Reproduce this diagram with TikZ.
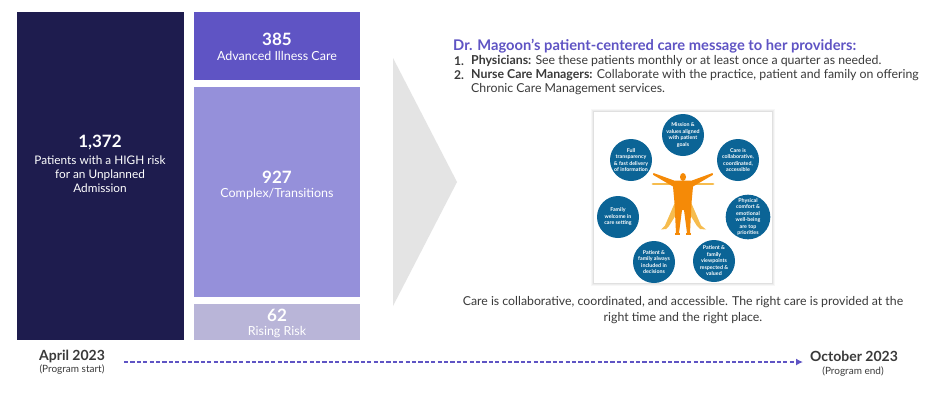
\documentclass[tikz,border=0pt]{standalone}
\usepackage{fontspec}
\setmainfont{Lato}
\usetikzlibrary{arrows.meta}
\definecolor{navy}{HTML}{1E1C4E}
\definecolor{violet}{HTML}{5F54C4}
\definecolor{midv}{HTML}{9590DA}
\definecolor{palev}{HTML}{B9B5D8}
\definecolor{chev}{HTML}{E4E4E4}
\definecolor{ink}{HTML}{3A3A3A}
\definecolor{teal}{HTML}{0B6496}
\definecolor{orangeA}{HTML}{F58A07}
\definecolor{orangeB}{HTML}{F6BC4E}
\newcommand{\fs}[2]{\fontsize{#1}{#2}\selectfont}
\tikzset{
  block/.style={fill=#1,draw=none,inner sep=0pt},
  num/.style={text=white,font=\fs{17}{19}\bfseries,inner sep=0pt},
  lab/.style={text=white,font=\fs{12.5}{15.5}\selectfont,align=center,inner sep=0pt},
  head/.style={text=violet,font=\fs{14.7}{16}\bfseries,anchor=west,inner sep=0pt},
  body/.style={text=ink,font=\fs{12.32}{15}\selectfont,anchor=west,inner sep=0pt},
  date/.style={text=ink,font=\fs{14}{15}\bfseries,inner sep=0pt},
  sub/.style={text=ink,font=\fs{10}{11}\selectfont,inner sep=0pt},
  bub/.style={circle,fill=teal,minimum size=42pt,inner sep=0pt,text=white,align=center,font=\fs{5.3}{6.5}\bfseries},
}
\begin{document}
\begin{tikzpicture}[x=1pt,y=-1pt]
\useasboundingbox (0,0) rectangle (936,402);
\fill[white] (0,0) rectangle (936,402);
\fill[block=navy] (17,12) rectangle (184,340);
\fill[block=violet] (194,12) rectangle (360,80);
\fill[block=midv] (194,87) rectangle (360,297);
\fill[block=palev] (194,304) rectangle (360,340);
\fill[chev] (393,58) -- (457,182) -- (393,306) -- cycle;

\node[num] (n1) at (100,142) {1,372};
\node[lab,font=\fs{11.8}{14}\selectfont] (l1) at (100,174) {Patients with a HIGH risk\\for an Unplanned\\Admission};
\node[num] (n2) at (277,39) {385};
\node[lab] (l2) at (277,56) {Advanced Illness Care};
\node[num] (n3) at (277,177) {927};
\node[lab] (l3) at (277,194) {Complex/Transitions};
\node[num] (n4) at (277,315) {62};
\node[lab] (l4) at (277,332) {Rising Risk};

\node[head] (h) at (453,46.5) {Dr. Magoon's patient-centered care message to her providers:};
\node[body,font=\fs{12.1}{15}\bfseries] (i1) at (454,61) {1.};
\node[body] (t1) at (471,61) {\textbf{Physicians:} See these patients monthly or at least once a quarter as needed.};
\node[body,font=\fs{12.1}{15}\bfseries] (i2) at (454,75) {2.};
\node[body] (t2) at (471,75) {\textbf{Nurse Care Managers:} Collaborate with the practice, patient and family on offering};
\node[body] (t3) at (471,89.5) {Chronic Care Management services.};

% picture panel with soft shadow
\foreach \d/\o in {3/03,2/04,1/05}{
  \fill[black,opacity=.\o] (594-\d,112-\d) rectangle (772+\d,283+\d);
}
\fill[white] (594,112) rectangle (772,283);
\node[bub] (b1) at (683,135) {Mission \&\\values aligned\\with patient\\goals};
\node[bub] (b2) at (738,160) {Care is\\collaborative,\\coordinated,\\accessible};
\node[bub] (b3) at (748,217) {Physical\\comfort \&\\emotional\\well-being\\are top\\priorities};
\node[bub] (b4) at (714,261) {Patient \&\\family\\viewpoints\\respected \&\\valued};
\node[bub] (b5) at (654,262) {Patient \&\\family always\\included in\\decisions};
\node[bub] (b6) at (618,217) {Family\\welcome in\\care setting};
\node[bub] (b7) at (631,160) {Full\\transparency\\\& fast delivery\\of information};

% figure: pale limbs behind
\draw[orangeB,line cap=round,line width=2.8pt] (677,184) -- (653,184);
\draw[orangeB,line cap=round,line width=2.8pt] (689,184) -- (713,184);
\fill[orangeB] (676,200) -- (682,205) -- (669,226) -- (666,229) -- (661,229.5) -- (665,225.5) -- cycle;
\fill[orangeB] (690,200) -- (684,205) -- (697,226) -- (700,229) -- (706,229.5) -- (701,225.5) -- cycle;
% figure: orange body
\fill[orangeA] (683,177) ellipse (3pt and 4pt);
\fill[orangeA] (653.5,173) -- (674,180.5) -- (692,180.5) -- (712.5,173) -- (713,174.8) -- (693,186.5) -- (691.5,203) -- (690,233) -- (687,233) -- (684,210) -- (682,210) -- (679,233) -- (676,233) -- (674.5,203) -- (673,186.5) -- (653,174.8) -- cycle;
\fill[orangeA] (675,232.5) -- (680,232.5) -- (680,234.8) -- (675,234.8) -- cycle;
\fill[orangeA] (686,232.5) -- (691,232.5) -- (691,234.8) -- (686,234.8) -- cycle;

\node[text=ink,font=\fs{12.3}{15.5}\selectfont,align=center,inner sep=0pt] (cap) at (683,310) {Care is collaborative, coordinated, and accessible. The right care is provided at the\\right time and the right place.};

\node[date] (apr) at (72,356.5) {April 2023};
\node[sub] (aprs) at (72,369.5) {(Program start)};
\node[date] (oct) at (854,356.5) {October 2023};
\node[sub] (octs) at (853,371.5) {(Program end)};
\coordinate (ts) at (124,362);
\coordinate (te) at (803,362);
\draw[violet,line width=2pt,dash pattern=on 4.2pt off 2.2pt,-{Latex[length=7pt,width=7pt]}] (ts) -- (te);
\end{tikzpicture}
\end{document}
